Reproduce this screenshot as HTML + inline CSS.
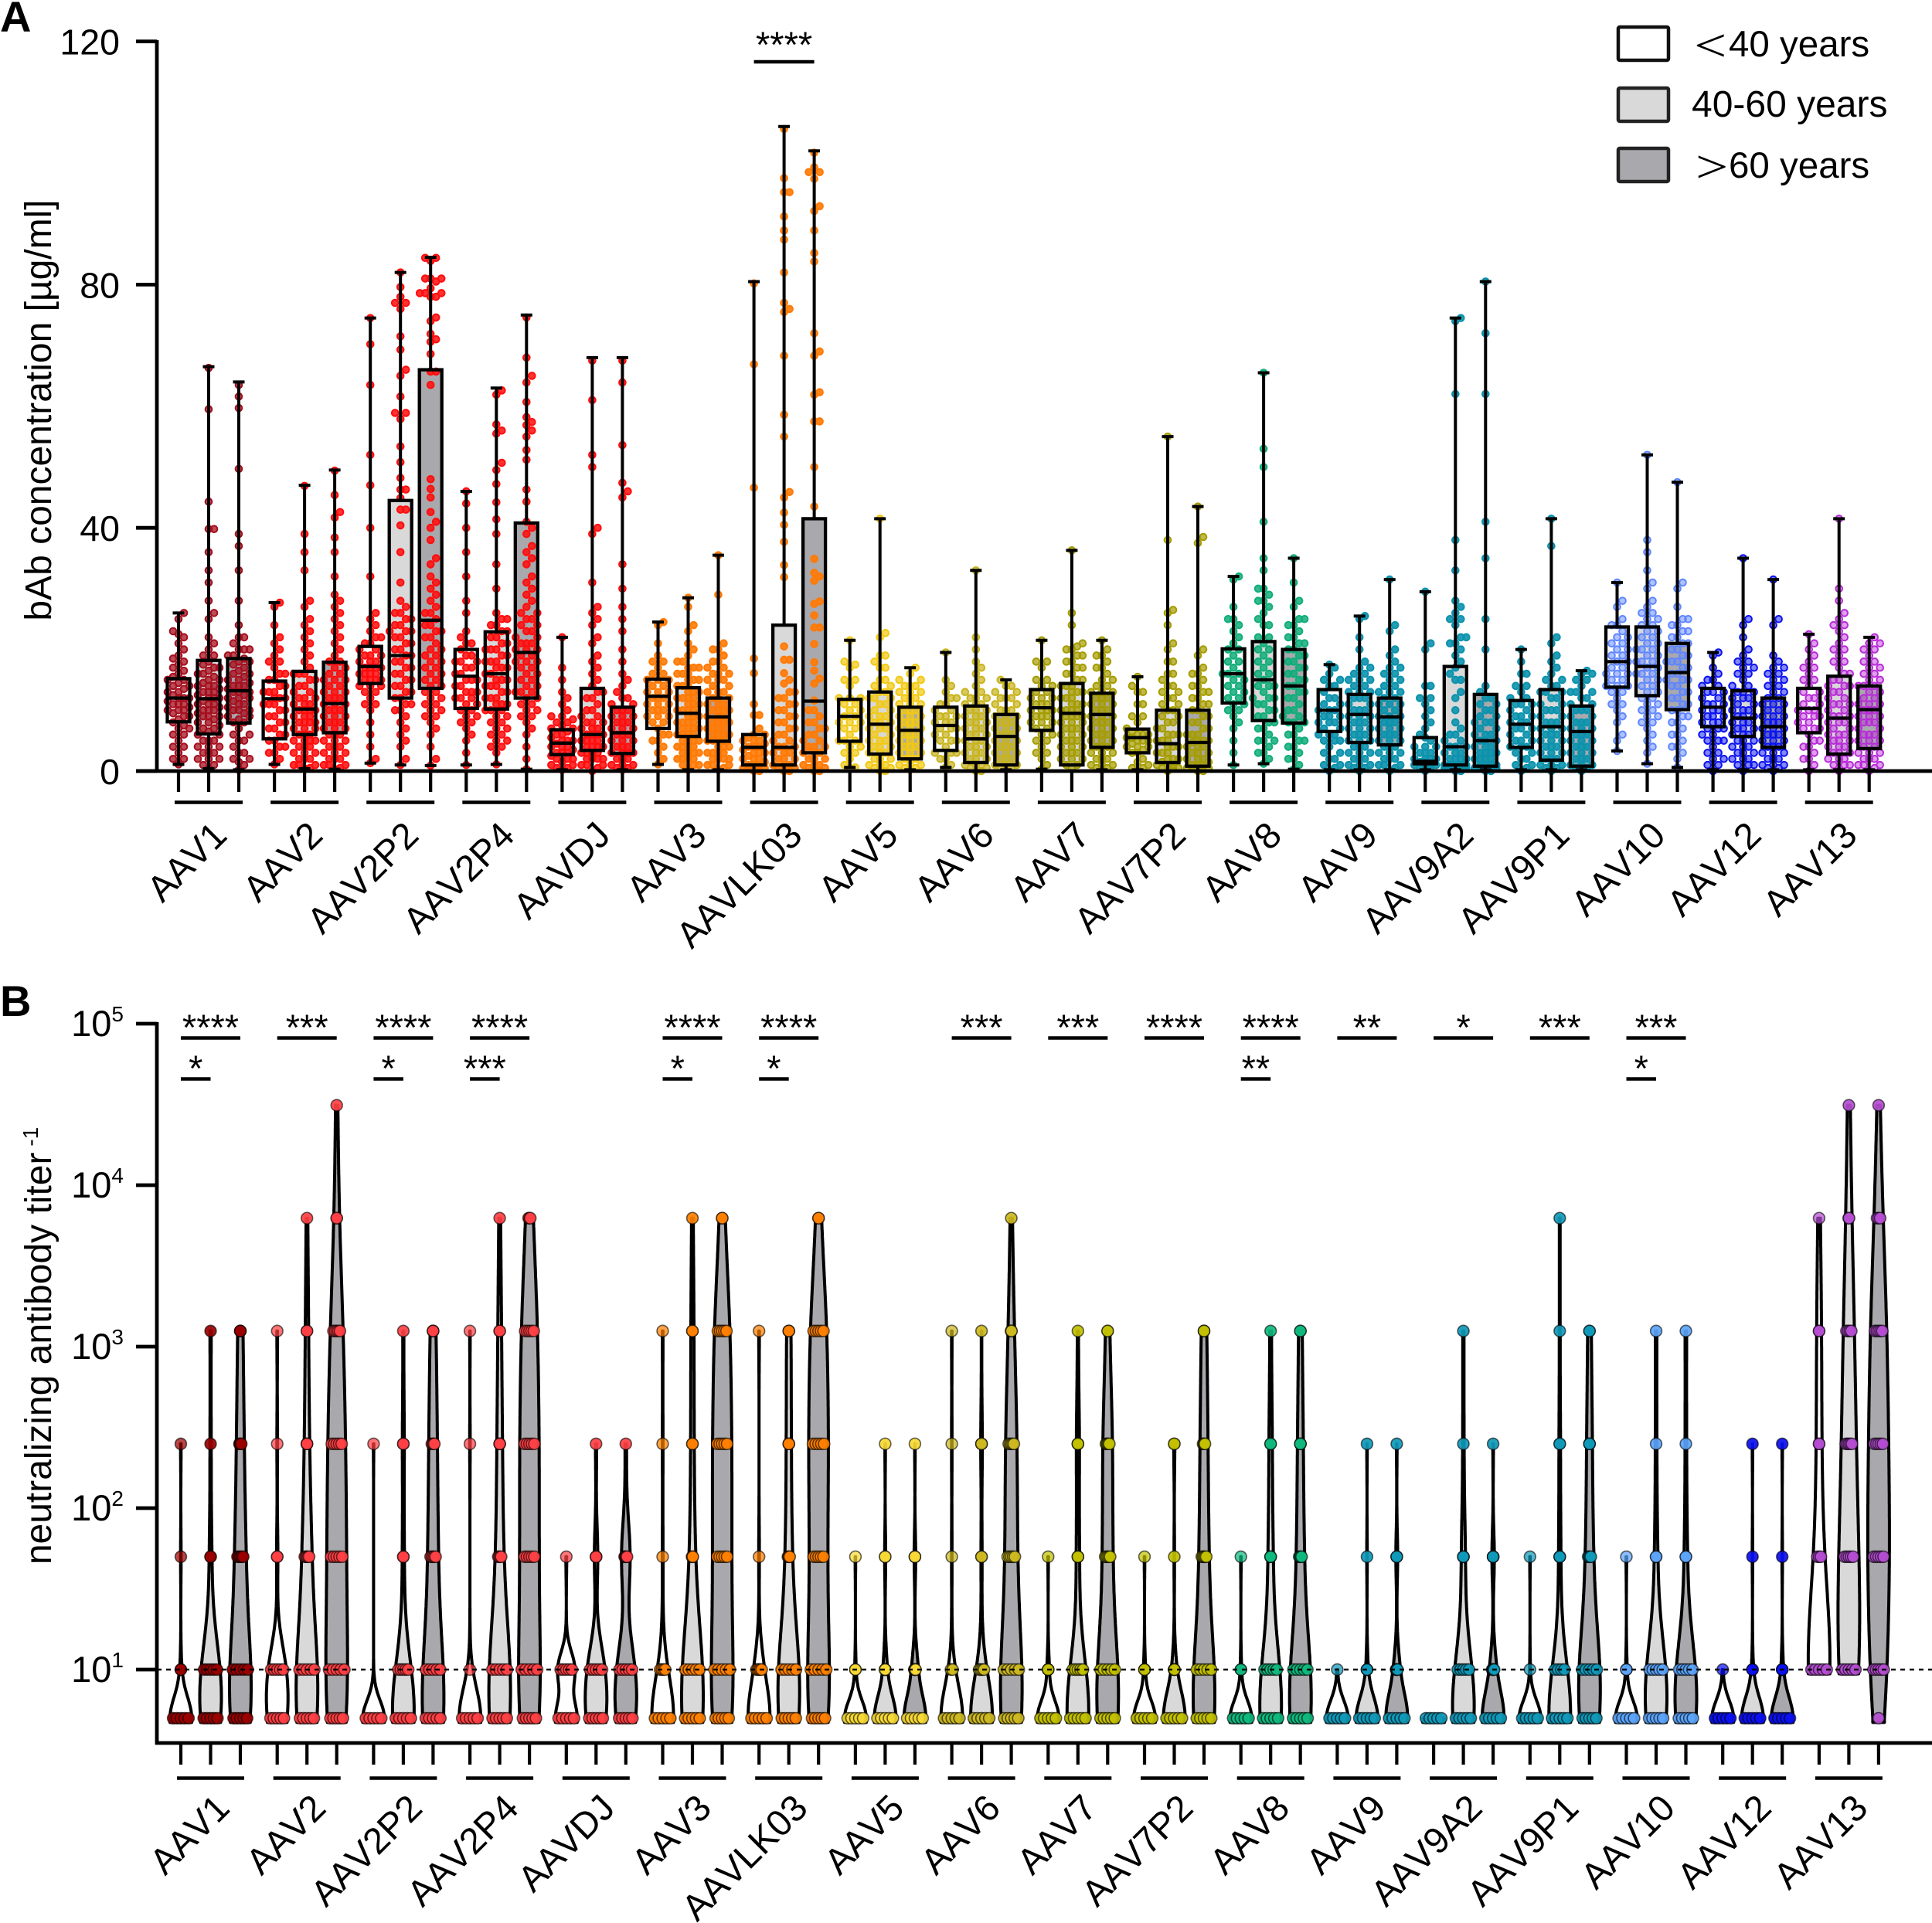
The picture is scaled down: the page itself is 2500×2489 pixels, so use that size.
<!DOCTYPE html>
<html lang="en">
<head>
<meta charset="utf-8">
<title>AAV bAb concentration and neutralizing antibody titer by age</title>
<style>
html,body{margin:0;padding:0;background:#fff}
svg{display:block}
text{font-family:"Liberation Sans",Arial,sans-serif;fill:#000;font-kerning:none}
</style>
</head>
<body>
<svg id="figure" xmlns="http://www.w3.org/2000/svg" width="2500" height="2489" viewBox="0 0 2500 2489">
  <rect x="0" y="0" width="2500" height="2489" fill="#fff"/>
  <text x="0" y="41" font-size="56" font-weight="bold">A</text>
  <text x="0" y="1315" font-size="56" font-weight="bold">B</text>
  <text transform="translate(66 531) rotate(-90)" text-anchor="middle" font-size="48">bAb concentration [µg/ml]</text>
  <text transform="translate(66 1742) rotate(-90)" text-anchor="middle" font-size="48">neutralizing antibody titer<tspan font-size="28" dy="-17"> -1</tspan></text>
  <g>
    <rect x="2094" y="35" width="65" height="43" rx="2" fill="#fff" stroke="#111" stroke-width="4.5"/>
    <rect x="2094" y="114" width="65" height="43" rx="2" fill="#d9d9d9" stroke="#222" stroke-width="4.5"/>
    <rect x="2094" y="192" width="65" height="43" rx="2" fill="#a9a9ad" stroke="#222" stroke-width="4.5"/>
    <text transform="translate(2192 79) scale(1.25 1)" font-size="60" style="font-family:'Liberation Serif',serif">&lt;</text>
    <text x="2237" y="73" font-size="47.5">40 years</text>
    <text x="2189" y="151" font-size="48">40-60 years</text>
    <text transform="translate(2194 236) scale(1.25 1)" font-size="60" style="font-family:'Liberation Serif',serif">&gt;</text>
    <text x="2237" y="230" font-size="47.5">60 years</text>
  </g>
  <g id="panelA"></g>
  <g id="panelB"></g>
</svg>
<script>
const categories = ['AAV1','AAV2','AAV2P2','AAV2P4','AAVDJ','AAV3','AAVLK03','AAV5','AAV6','AAV7','AAV7P2','AAV8','AAV9','AAV9A2','AAV9P1','AAV10','AAV12','AAV13'];
const ageGroups = ['under-40','40-60','over-60'];
const bAbTicks = [0,40,80,120];
const titerExponents = [1,2,3,4,5];
const titerLevels = [5,10,50,250,1250,6250,31250];

const bAbMax = [[26,66.5,64],[27.7,47,49.5],[74.5,82,84.5],[46,63,75],[22,68,68],[24.5,28.5,35.5],[80.5,106,102],[21.5,41.5,17],[19.5,33,15],[21.5,36.3,21.5],[15.5,55,43.5],[32,65.5,35],[17.5,25.5,31.5],[29.5,74.5,80.5],[20,41.5,16.5],[31,52,47.5],[19.5,35,31.5],[22.5,41.5,22]];
const bAbQ3 = [[15.2,18.2,18.5],[14.8,16.4,17.9],[20.5,44.5,66],[20,22.9,40.8],[6.8,13.6,10.5],[15.1,13.7,12],[6,24,41.5],[11.8,13,10.5],[10.5,10.7,9.3],[13.4,14.4,12.8],[6.9,10,10],[20.1,21.3,20],[13.4,12.6,12],[5.5,17.2,12.6],[11.6,13.4,10.7],[23.7,23.7,21],[13.6,13.2,12],[13.6,15.6,14]];
const bAbMedian = [[12,11.9,13.2],[11.9,10.2,11.1],[17.2,19,24.8],[15.6,16,19.5],[4.6,6,6.3],[12.3,9.5,8.9],[3.9,3.9,11.5],[9,7.7,6.7],[7.5,5.3,5.7],[10.4,9.5,9.3],[5.5,4.5,4.7],[16,15,14],[10,9.3,8.9],[1.6,4,5],[7.7,7.3,6.5],[18,17.2,16.2],[10.5,8.7,7.3],[10.3,8.7,10.1]];
const bAbQ1 = [[8.1,6.1,7.9],[5.3,6,6.3],[14.4,12,13.6],[10.3,10.2,12],[2.7,3.4,2.9],[7,5.7,4.9],[1,1,3],[4.9,2.8,2],[3.4,1.4,1],[6.7,1,3.9],[3,1.4,0.8],[11.2,8.3,7.9],[6.5,4.7,4.3],[1.2,1,0.8],[3.9,1.8,0.8],[13.8,12.4,10.1],[7.3,5.7,3.9],[6.3,2.8,3.7]];
const bAbMin = [[1.1,0.4,0.2],[1.1,0.4,0.3],[1.3,1,0.9],[1,1.1,0.3],[0.2,0,0.2],[1.1,0.2,0.2],[0,0,0],[0.6,0,0.2],[0.6,0,0.2],[0.3,1,0.2],[0.2,0,0],[1,1.2,0.3],[0.2,0.2,0.2],[0.2,0.2,0.2],[0.2,0.2,0.2],[3.3,1.2,0.6],[0.2,0.2,0.2],[0.2,0.2,0.2]];

const bAbPoints = [
[[26,25,23,22,20,19,18,17,16.5,16,15.5,15,14.5,14,14,13.5,13,12.5,12,12,11.5,11,11,10.5,10,10,9.5,9,8.5,8,7.5,7,6,5,4,3,2,1.1,22.5,21,18.5,17.5,15,13,12,11,10,9,7,6,4,2],
 [66.3,59.5,44.3,39.8,39.8,36,33,31,28,26,25,22,21,20,19,18,17.5,17,16.5,16,16,15.5,15,14.5,14,14,13.5,13,13,12.5,12,12,11.5,11,11,10.5,10,10,9.5,9,9,8.5,8,7.5,7,6.5,6,5,5,4,4,3,3,2,2,1,1,0.4,19,17,15,14,13,12,11,10,9,8,7,6,5,4,3,2],
 [63.5,61.6,59.7,49.7,39,37,33,28,24,22,22,21,20,20,19,18.5,18,17.5,17,16.5,16,15.5,15,15,14.5,14,14,13.5,13,13,12.5,12,12,11.5,11,10.5,10,10,9.5,9,8.5,8,7,6,5,4,3,2,1.5,1,0.2,20,19,18,16,14,13,12,11,10,9,8,6,5,3,2]],
[[27.7,27,24,22,21,19,18,17,16,15,15,14,14,13,13,12,12,12,11,11,10,10,9,9,8,7,6,6,5,5,4,4,3,3,2,1.1,20,18,16,13,11,8,7],
 [46.9,39,36,33,28,25,23,21,20,19,18,17,16,16,15,15,14,13,13,12,12,11,11,10,10,10,9,9,8,8,8,7,7,6,6,5,5,5,4,4,3,3,2,2,1,1,0.4,27,24,22,16,14,12,11,10,9,8,7,6,5,4,3,2,1,0.5],
 [49.4,45.4,42.6,41.7,38.4,36,32,28,26,25,24,22,20,19,18,18,17,16,16,15,15,14,14,13,13,12,12,11,11,10,10,9,9,8,8,7,7,6,6,5,5,4,4,3,3,2,2,1,1,0.3,29,27,23,21,17,15,13,12,11,10,9,8,7,6,5,4,3,2,1,0.5]],
[[74.5,70.2,63.5,52,47,40,32,26,24,23,22,21,21,20,20,19,19,18,18,18,17,17,17,16,16,16,15,15,15,14,14,13,12,11,10,8,6,4,2,1.3,25,22,19,17,16,15,14,13,11],
 [82,79.6,78,77,76,77,71.5,69.3,66,65,61.6,58.9,58.9,57.9,53.4,50.8,48.2,46.3,46.3,44.9,43,43,40.4,36,31,28,27,26,25,24,23,22,21,20,19,18,17,16,15,14,13,12,11,10,9,8,7,6,5,4,2,1,26,25,24,23,23,22,21,20,19,18,17,16,15,14,13,12,11,10],
 [84.4,84.4,83.9,81,81,81,80.5,79.4,78.6,78.6,78.6,78,78,74.6,74,71.9,71,70.6,68.6,65.7,65.7,63.5,48,46.4,45,42.6,41,40,38,35,32,31,29,28,26,25,24,23,22,21,20,19,18,17,16,15,14,13,12,11,10,9,8,7,6,4,2,0.9,34,30,27,26,24,23,22,20,19,18,17,16,15,14,13,12,11,10,9]],
[[46,44,40,36,32,28,26,23,22,21,20,19,19,18,18,17,16,16,15,15,14,14,13,13,12,12,11,11,10,10,9,8,7,6,5,3,1,21,18,17,15,13,12,9,8],
 [62.6,61.9,57,56,55.5,50.7,49.5,47.2,44.2,41.4,39,34,30,26,25,24,23,23,22,21,20,20,19,18,18,17,17,16,15,15,14,14,13,12,12,11,11,10,10,9,8,7,6,5,4,3,1.1,25,24,22,21,20,19,18,17,16,15,14,13,12,11,10,9,8,7,6,5,4],
 [74.6,68,65,63.9,60.7,58.2,57.4,56.9,56,55,52.8,51.2,46.3,44.3,41,40,37,35,32,30,28,26,25,24,23,22,21,21,20,20,19,18,18,17,16,15,14,13,13,12,11,10,9,8,7,6,4,2,0.3,39,36,34,31,29,27,26,25,24,23,22,21,20,19,18,17,16,15,14,13,12,11,10,9]],
[[22,17,15,13,12,11,10,9,8.5,8,7.5,7,6.5,6,5.5,5,5,4.5,4,4,3.5,3,3,2.5,2,2,1.5,1,0.5,0.2,9,8,7,6,5,4,3,2,1,0.5],
 [67.5,61,52,50,40,39,31,27,26,25,24,22,18,16,15,14,13,12,11,10,9,8,8,7,7,6,6,6,5,5,5,4,4,4,3,3,3,2,2,2,1,1,0.5,0,21,19,17,13,12,10,9,8,7,6,5,4,3,2,1],
 [67.5,63.9,53.6,47.4,46,45,34,30,25,23,18,16,14,13,12,11,10,10,9,9,8,8,7,7,6,6,5,5,4,4,3,3,3,2,2,1,1,0.5,0.2,27,20,15,12,11,10,9,8,7,6,5,4,3,2,1,0.5]],
[[24.5,24,21,18,18,17,16,15,15,14,14,13,13,12,12,12,11,11,10,10,9,9,8,8,7,6,6,5,5,4,3,2,1.1,19,16,15,13,11,10,9],
 [28.5,27,24,23,21,20,18,17,17,16,16,15,15,14,14,13,13,12,12,12,11,11,10,10,10,9,9,8,8,8,7,7,7,6,6,6,5,5,5,4,4,4,3,3,3,2,2,2,1,1,0.2,19,18,17,16,15,14,13,12,11,10,9,8,7,6,5,4,3,2,1],
 [35.5,29,21,20,19,18,17,16,16,15,15,14,13,13,12,12,11,11,10,10,10,9,9,8,8,8,7,7,7,6,6,6,5,5,5,4,4,3,3,3,2,2,2,1,1,0.5,0.2,20,18,17,16,15,14,13,12,11,10,9,8,7,6,5,4,3,2,1]],
[[80.2,66.9,46.6,18.5,16.1,11,9.2,9.2,7,6,6,5.5,5,5,4.5,4,4,3.5,3,3,2.5,2,2,1.5,1,1,0.5,0.5,0,5,4,3,2,1,0.5,0],
 [105.6,97.5,95.2,95.2,91.2,88.9,87.4,82,77,76,75.5,68.3,58.6,55,45.9,45,42.5,40.5,37.7,33.9,31.9,20.5,18.3,18.3,16.1,15,14.4,13,12,11,10,9,8,7,6,5,4,4,3,3,2,2,1,1,0.5,0,13,12,11,10,9,8,7,6,5,4,3,2,1,0.5,0],
 [101.7,99.3,98.5,98.5,97.4,92.9,92.1,88.9,85.2,83.8,72,69,68.3,62.3,61.9,57.5,57.5,50,43.5,34.9,32.6,32,31.3,27.9,27.5,25.6,23.6,23.6,20.9,17.9,16.5,15.2,14.4,11.6,10,9,8,7,6,5,4,4,3,3,2,2,1,1,0.5,0,10,8,7,6,5,4,3,2,1,0.5,0]],
[[21.5,18,17.5,15,14,12,12,11,10,9,9,8,8,7,6,5,5,4,3,2,0.6,17,15,12,11,10,8,7,5,4,3,1,0.5],
 [41.5,22.7,22,19,18,17,15,14,13,13,12,12,11,10,10,9,9,8,8,7,7,6,6,5,5,4,4,3,3,2,2,1,1,0.5,0,19,17,15,14,12,11,9,8,7,5,4,3,2,1,0.5,0],
 [17,15,14,14,13,13,12,12,11,11,10,10,9,9,8,8,7,7,6,6,5,5,4,4,3,3,2,2,1,1,0.5,0.2,16,15,14,13,12,11,10,9,8,7,6,5,4,3,2,1,0.5]],
[[19.5,15,13,12,11,11,10,9,9,8,8,7,7,6,5,5,4,3,3,2,1,0.6,14,12,10,9,8,7,6,5,3,2],
 [33,22,20,18,17,16,14,13,12,12,11,11,10,10,9,9,8,8,7,7,6,6,5,5,4,4,3,3,2,2,1,1,0.5,0,15,13,12,11,10,9,8,7,6,5,4,3,2,1,0.5,0],
 [15,14,13,13,12,12,11,10,10,9,9,8,8,7,7,6,6,5,5,4,4,3,3,2,2,1,1,0.5,0.2,14,12,11,10,9,8,7,6,5,4,3,2,1,0.5]],
[[21.5,18,17,15,14,13,13,12,12,11,11,10,10,10,9,9,8,8,7,7,6,5,4,3,2,1,0.3,18,15,14,12,11,10,9,8,6,5,3],
 [36.3,26,24,21,20.5,20,19,18,17,16,15,14,14,13,13,12,12,11,11,10,10,10,9,9,9,8,8,7,7,6,6,5,5,4,4,3,3,2,2,1,20,19,18,17,16,15,14,13,12,11,10,9,8,7,6,5,4,3,2,1,0.5],
 [21.5,20,19,17,16,15,14,14,13,13,12,12,11,11,10,10,9,9,8,8,7,7,6,6,5,5,4,4,3,3,2,2,1,1,0.5,0.2,19,18,17,15,13,12,11,10,9,8,7,6,5,4,3,2,1,0.5]],
[[15.5,14,13,11,9,8,7,6.5,6,6,5.5,5.5,5,5,4.5,4,4,3.5,3,2,1,0.5,0.2,13,11,9,6,5,4,3,1.5,0.5],
 [55,38,26.5,26,24,21,20,18,16,14,13,12,11,10,9,8,7,6,6,5,5,4,4,3,3,2,2,1.5,1,1,0.5,0.5,0,18,16,15,14,13,12,11,10,9,8,7,6,5,4,3,2,1,0.5],
 [43.5,38.5,37.5,20,19,16,15,14,13,12,11,10,9,8,7,6,6,5,5,4.7,4,4,3,3,2,2,1.5,1,1,0.5,0.5,0,17,16,14,13,12,11,10,9,8,7,6,5,4,3,2,1,0.5,0]],
[[32,31.5,25,24,23,21,20,19,18,17,16,16,15,15,14,13,13,12,11,11,10,9,7,5,3,1,27,25,22,20,18,16,14,12,10,8],
 [65.5,53,50,41,35,33,30,29,28,27,25,24,22,21,20,19,18,17,16,15,14,14,13,12,12,11,10,9,8,8,7,6,5,5,4,3,2,1.2,30,28,26,24,22,20,18,16,14,12,11,10,9,7,5,3],
 [35,31,28,27,25,24,23,22,21,20,19,18,18,17,16,15,15,14,13,13,12,11,10,9,8,8,7,6,5,4,3,2,1,0.3,25,24,22,21,20,19,17,16,14,12,10,9,8,6,5,4,2]],
[[17.5,17,16,15,14,13,12,11,10,10,9,9,8,8,7,7,6,6,5,5,4,3,2,1,0.5,0,15,14,12,11,10,9,8,6,5,3,2,1],
 [25.5,25,22,20,18,17,16,15,15,14,13,13,12,12,11,10,10,9,9,8,8,7,7,6,6,5,5,4,4,3,3,2,2,1,1,0.5,0,17,16,15,14,13,12,11,10,9,8,7,6,5,4,3,2,1,0.5],
 [31.5,24,23,20,19,17,16,15,14,13,13,12,11,11,10,9,9,8,8,7,7,6,6,5,5,4,4,3,3,2,2,1,1,0.5,0,18,17,16,15,14,13,12,11,10,9,8,7,6,5,4,3,2,1]],
[[29.5,21,20,14,12,11,9,7,5.5,5,4,4,3,3,2,2,2,1.5,1.5,1,1,1,0.5,0.5,0,14,12,10,8,6,4,3,2,1],
 [74.5,74,62,38,33,28,27,25,24,22,21,20,18,16,15,13,12,10,8,7,6,5,4,4,3,3,2,2,2,1,1,1,0.5,0.5,0,26,25,22,21,19,17,15,6,5,4,3,2,1,1,0.5,0],
 [80.5,72,62,41,35,25,20,14,12,11,10,9,8,8,7,6,6,5,5,4,4,3,3,3,2,2,2,1,1,1,0.5,0.5,0,13,12,11,10,9,8,7,6,5,4,3,2,1,0.5,0]],
[[20,18,16,14,13,12,11,11,10,9,9,8,8,7,7,6,5,5,4,4,3,3,2,1,0.5,0,16,14,12,11,10,9,8,7,6,5,4,2,1],
 [41.5,37,22,21,19,18,17,15,14,13,13,12,11,10,10,9,8,8,7,7,6,6,5,5,4,4,3,3,2,2,1,1,0.5,0,16,15,14,13,12,11,10,9,8,7,6,5,4,3,2,1,0.5],
 [16.5,16,15,14,13,13,12,11,10,10,9,8,8,7,7,6,6,5,5,4,4,3,3,2,2,1,1,0.5,0,16,15,13,12,11,10,9,8,7,6,5,4,3,2,1,0.5]],
[[31,28,27,24,23,22,21,20,20,19,18,18,17,16,16,15,14,14,13,12,11,9,8,6,5,3.3,25,24,22,21,19,17,16,15,14,13,11,10],
 [52,38,36,33,31,30,28,27,26,25,24,23,22,21,20,20,19,18,18,17,16,16,15,14,13,12,11,10,9,8,7,6,5,4,3,1.2,26,25,24,23,22,21,20,19,18,17,16,15,14,13,12,11,10,9,8],
 [47.5,31,30,27,25,24,23,22,21,20,19,18,18,17,16,15,15,14,13,12,11,10,9,8,7,6,5,4,3,2,0.6,25,24,23,22,21,20,19,18,17,16,15,14,13,12,11,10,9,8,6,4]],
[[19.5,19,17,16,15,14,13,13,12,11,11,10,10,9,9,8,8,7,7,6,5,5,4,3,2,1,0,15,14,13,12,11,10,9,8,7,6,5,3,2,1],
 [35,25,24,22,20,19,18,17,16,15,14,13,13,12,12,11,10,10,9,9,8,8,7,7,6,6,5,5,4,4,3,3,2,2,1,1,0,18,17,16,14,13,12,11,10,9,8,7,6,5,4,3,2,1],
 [31.5,25,24,19,18,17,16,15,14,13,12,11,11,10,9,9,8,8,7,7,6,6,5,5,4,4,3,3,2,2,1,1,0.5,0,17,16,15,14,13,12,11,10,9,8,7,6,5,4,3,2,1,0.5]],
[[22.5,21,20,18,17,16,15,14,13,12,12,11,10,10,9,9,8,7,7,6,5,4,3,2,1,0,19,17,15,13,11,10,9,8,7,5,4,2],
 [41.5,30,28,26,24,23,21,20,19,18,17,16,15,14,14,13,12,11,11,10,9,9,8,8,7,6,6,5,5,4,4,3,3,2,2,1,1,0,25,24,22,20,18,16,15,14,13,12,11,10,9,8,7,6,5,4,3,2,1],
 [22,21,20,19,18,17,16,15,14,14,13,12,11,11,10,10,9,9,8,8,7,6,6,5,5,4,3,3,2,2,1,1,0.5,0,21,20,18,17,16,15,14,13,12,11,10,9,8,7,6,5,4,3,2,1]]
];

const titerCounts = [
[[40,2,1,1],[12,10,2,1,1],[8,8,6,4,3]],
[[25,22,2,1,1],[10,9,6,3,2,1],[7,7,9,8,6,2,1]],
[[50,0,0,1],[20,6,2,2,1],[10,5,5,4,3]],
[[45,1,0,1,1],[10,8,4,3,2,1],[7,6,8,8,7,3]],
[[25,20,1],[14,12,3,1],[10,9,6,1]],
[[30,4,1,1,1],[12,8,3,2,2,1],[7,6,8,8,7,2]],
[[30,10,1,0,1],[10,9,4,3,3],[7,7,8,9,8,2]],
[[40,2,1],[40,6,2,1],[40,10,3,1]],
[[40,2,1,1,1],[40,4,2,3,1],[9,7,6,6,3,1]],
[[40,4,1],[20,5,3,3,1],[9,6,5,5,2]],
[[40,3,1],[40,5,1,2],[10,6,5,4,3]],
[[40,2,1],[12,5,3,2,1],[10,6,4,3,2]],
[[50,1],[40,3,1,1],[35,8,3,1]],
[[80],[14,6,3,1,1],[35,8,4,1]],
[[40,1,1],[30,4,3,2,1,1],[8,8,4,3,2]],
[[35,2,1],[10,8,2,1,1],[10,8,2,1,1]],
[[50,1],[40,2,1,1],[40,3,1,1]],
[[0,12,3,2,2,1],[0,9,7,5,4,2,1],[1,6,8,7,6,3,1]]
];

const sigFirstThird = ['****','***','****','****','','****','****','','***','***','****','****','**','*','***','***','',''];
const sigFirstSecond = ['*','','*','***','','*','*','','','','','**','','','','*','',''];
const sigPanelA = ['','','','','','','****','','','','','','','','','','',''];

/* styles */
const ageFills = ['#ffffff','#d9d9d9','#a9a9ad'];
const colorsA = ['#a50f1e','#ff0d0d','#ff0d0d','#ff0d0d','#ff0d0d','#ff7a05','#ff7a05','#f2c913','#c8b41c','#a59c00','#a59c00','#12ad7a','#0c92ad','#0c92ad','#0c92ad','#5f86ff','#0a12f0','#b82bd8'];
const colorsB = ['#9a0000','#ff4044','#ff4044','#ff4044','#ff4044','#ff8000','#ff8000','#f7d935','#cdb81f','#c2c000','#c2c000','#0fb87e','#0f99b8','#0f99b8','#0f99b8','#5ba4fa','#0a0ff0','#b44dd0'];
const dotOpacityA = [0.75,0.85,0.85,0.85,0.85,0.9,0.9,0.7,0.7,0.7,0.7,0.85,0.9,0.9,0.9,0.5,0.5,0.45];

const NS = 'http://www.w3.org/2000/svg';
function mk(tag, attrs, parent, text) {
  const e = document.createElementNS(NS, tag);
  for (const k in attrs) e.setAttribute(k, attrs[k]);
  if (text !== undefined) e.textContent = text;
  parent.appendChild(e);
  return e;
}

/* axis functions */
const xA = (c, a) => 231 + 124.1 * c + 39 * a;
const yA = v => 998 - v * 7.87;
const xB = (c, a) => 234 + 124.7 * c + 38.5 * a;
const yB = v => 2161 - (Math.log10(v) - 1) * 209;

const panelA = document.getElementById('panelA');
const panelB = document.getElementById('panelB');

/* arrange points of a box without overlap, in columns either side of the centre */
function swarm(values, scale) {
  const cols = [0, 7, -7, 14, -14];
  const last = cols.map(() => -1e9);
  return values.slice().sort((p, q) => p - q).map(v => {
    const y = scale(v);
    let pick = -1, far = -1;
    for (let i = 0; i < cols.length; i++) {
      const gap = Math.abs(y - last[i]);
      if (gap >= 10 && pick < 0) pick = i;
      if (gap > far) far = gap;
    }
    if (pick < 0) pick = last.findIndex(l => Math.abs(y - l) === far);
    last[pick] = y;
    return { off: cols[pick], y };
  });
}

/* Panel A */
categories.forEach((cat, c) => {
  const group = mk('g', {}, panelA);
  
  
  ageGroups.forEach((age, a) => {
    const x = xA(c, a);
    const hi = yA(bAbQ3[c][a]), lo = yA(bAbQ1[c][a]);
    const fill = mk('rect', { x: x - 14.5, y: hi, width: 29, height: lo - hi, fill: ageFills[a] }, group);
    
    
    swarm(bAbPoints[c][a], yA).forEach(p => {
      const dot = mk('circle', { cx: x + p.off, cy: p.y, r: 4.3, fill: colorsA[c], 'fill-opacity': dotOpacityA[c], stroke: colorsA[c], 'stroke-width': 2 }, group);
      
      
    });
    const upper = mk('path', { d: `M${x - 7.5} ${yA(bAbMax[c][a])}H${x + 7.5}M${x} ${yA(bAbMax[c][a])}V${hi}`, fill: 'none', stroke: '#000', 'stroke-width': 4 }, group);
    
    
    const lower = mk('path', { d: `M${x - 7.5} ${yA(bAbMin[c][a])}H${x + 7.5}M${x} ${yA(bAbMin[c][a])}V${lo}`, fill: 'none', stroke: '#000', 'stroke-width': 4 }, group);
    
    
    const outline = mk('rect', { x: x - 14.5, y: hi, width: 29, height: lo - hi, fill: 'none', stroke: '#000', 'stroke-width': 4.3 }, group);
    
    
    const med = mk('line', { x1: x - 14.5, x2: x + 14.5, y1: yA(bAbMedian[c][a]), y2: yA(bAbMedian[c][a]), stroke: '#000', 'stroke-width': 4.3 }, group);
    
    
    const tick = mk('line', { x1: x, x2: x, y1: 998, y2: 1025, stroke: '#000', 'stroke-width': 4.2 }, group);
    
    
  });
  const cx = xA(c, 1);
  const bar = mk('line', { x1: cx - 44, x2: cx + 44, y1: 1038.5, y2: 1038.5, stroke: '#000', 'stroke-width': 4.4 }, group);
  
  
  const label = mk('text', { transform: `translate(${cx + 26} 1084) rotate(-45)`, 'text-anchor': 'end', 'font-size': 47.5 }, group, cat);
  
  
  if (sigPanelA[c]) {
    const line = mk('line', { x1: xA(c, 0), x2: xA(c, 2), y1: 80, y2: 80, stroke: '#000', 'stroke-width': 4.4 }, group);
    
    
    const stars = mk('text', { x: cx, y: 74, 'text-anchor': 'middle', 'font-size': 47 }, group, sigPanelA[c]);
    
    
  }
});
const axisAx = mk('line', { x1: 176, x2: 2500, y1: 998, y2: 998, stroke: '#000', 'stroke-width': 4.8 }, panelA);


const axisAy = mk('line', { x1: 203, x2: 203, y1: 52, y2: 1000, stroke: '#000', 'stroke-width': 4.8 }, panelA);


bAbTicks.forEach(t => {
  const tick = mk('line', { x1: 176, x2: 203, y1: yA(t), y2: yA(t), stroke: '#000', 'stroke-width': 4.8 }, panelA);
  
  
  const label = mk('text', { x: 155, y: yA(t) + 17, 'text-anchor': 'end', 'font-size': 46.5 }, panelA, String(t));
  
  
});

/* Panel B: kernel density over the log titer, normalised to a common peak width */
function violinShape(counts) {
  const obs = [];
  counts.forEach((n, i) => { if (n > 0) obs.push({ n, l: Math.log10(titerLevels[i]) }); });
  const total = obs.reduce((s, o) => s + o.n, 0);
  const mean = obs.reduce((s, o) => s + o.n * o.l, 0) / total;
  const variance = obs.reduce((s, o) => s + o.n * (o.l - mean) * (o.l - mean), 0) / total;
  const h = Math.max(0.11, 0.95 * Math.sqrt(variance) * Math.pow(total, -0.2));
  const density = l => obs.reduce((s, o) => s + o.n * Math.exp(-0.5 * Math.pow((l - o.l) / h, 2)), 0);
  const lowL = Math.min(...obs.map(o => o.l)), highL = Math.max(...obs.map(o => o.l));
  const rows = [];
  for (let l = lowL; l < highL; l += 0.015) rows.push(l);
  rows.push(highL);
  const ds = rows.map(density);
  const peak = Math.max(...ds);
  return { rows: rows.map((l, i) => ({ y: 2161 - (l - 1) * 209, hw: 14 * ds[i] / peak })), lowL, highL };
}

categories.forEach((cat, c) => {
  const group = mk('g', {}, panelB);
  
  
  ageGroups.forEach((age, a) => {
    const x = xB(c, a);
    const shape = violinShape(titerCounts[c][a]);
    const rows = shape.rows;
    const bottom = rows[0].y + 5.5;
    let d = `M${x - rows[0].hw} ${bottom}`;
    rows.forEach(r => { d += `L${(x - r.hw).toFixed(1)} ${r.y.toFixed(1)}`; });
    rows.slice().reverse().forEach(r => { d += `L${(x + r.hw).toFixed(1)} ${r.y.toFixed(1)}`; });
    d += `L${x + rows[0].hw} ${bottom}Z`;
    const violin = mk('path', { d, fill: ageFills[a], stroke: '#000', 'stroke-width': 4, 'stroke-linejoin': 'round' }, group);
    
    
    titerCounts[c][a].forEach((n, lv) => {
      if (!n) return;
      const y = yB(titerLevels[lv]);
      const row = rows.reduce((best, r) => Math.abs(r.y - y) < Math.abs(best.y - y) ? r : best, rows[0]);
      const shown = Math.min(n, 5);
      const edge = Math.max(row.hw - 4, 0);
      const spread = lv < 2 ? edge : Math.min(edge, 0.8 * n);
      for (let i = 0; i < shown; i++) {
        const off = shown === 1 ? 0 : (i / (shown - 1) - 0.5) * 2 * spread;
        const dot = mk('circle', { cx: x + off, cy: y, r: 7.4, fill: colorsB[c], 'fill-opacity': a === 0 && n === 1 ? 0.72 : 0.92, stroke: '#000', 'stroke-opacity': 0.6, 'stroke-width': 1.6 }, group);
        
        
      }
    });
    const tick = mk('line', { x1: x, x2: x, y1: 2256, y2: 2284, stroke: '#000', 'stroke-width': 4.2 }, group);
    
    
  });
  const cx = xB(c, 1);
  const bar = mk('line', { x1: cx - 43.5, x2: cx + 43.5, y1: 2301.5, y2: 2301.5, stroke: '#000', 'stroke-width': 4.4 }, group);
  
  
  const label = mk('text', { transform: `translate(${cx + 27} 2343) rotate(-45)`, 'text-anchor': 'end', 'font-size': 47.5 }, group, cat);
  
  
  if (sigFirstThird[c]) {
    const line = mk('line', { x1: xB(c, 0), x2: xB(c, 2), y1: 1343.5, y2: 1343.5, stroke: '#000', 'stroke-width': 4.4 }, group);
    
    
    const stars = mk('text', { x: cx, y: 1346, 'text-anchor': 'middle', 'font-size': 47 }, group, sigFirstThird[c]);
    
    
  }
  if (sigFirstSecond[c]) {
    const mid = (xB(c, 0) + xB(c, 1)) / 2;
    const line = mk('line', { x1: xB(c, 0), x2: xB(c, 1), y1: 1396.5, y2: 1396.5, stroke: '#000', 'stroke-width': 4.4 }, group);
    
    
    const stars = mk('text', { x: mid, y: 1399, 'text-anchor': 'middle', 'font-size': 47 }, group, sigFirstSecond[c]);
    
    
  }
});
const refLine = mk('line', { x1: 203, x2: 2500, y1: yB(10), y2: yB(10), stroke: '#000', 'stroke-width': 2.6, 'stroke-dasharray': '6 6' }, panelB);


const axisBx = mk('line', { x1: 201, x2: 2500, y1: 2256, y2: 2256, stroke: '#000', 'stroke-width': 4.8 }, panelB);


const axisBy = mk('line', { x1: 203, x2: 203, y1: 1323, y2: 2258, stroke: '#000', 'stroke-width': 4.8 }, panelB);


titerExponents.forEach(p => {
  const y = yB(Math.pow(10, p));
  const tick = mk('line', { x1: 176, x2: 203, y1: y, y2: y, stroke: '#000', 'stroke-width': 4.8 }, panelB);
  
  
  const label = mk('text', { x: 160, y: y + 16, 'text-anchor': 'end', 'font-size': 47 }, panelB, '10');
  
  
  const sup = mk('tspan', { 'font-size': 28, dy: -19 }, label, String(p));
  
  
});
</script>
</body>
</html>
